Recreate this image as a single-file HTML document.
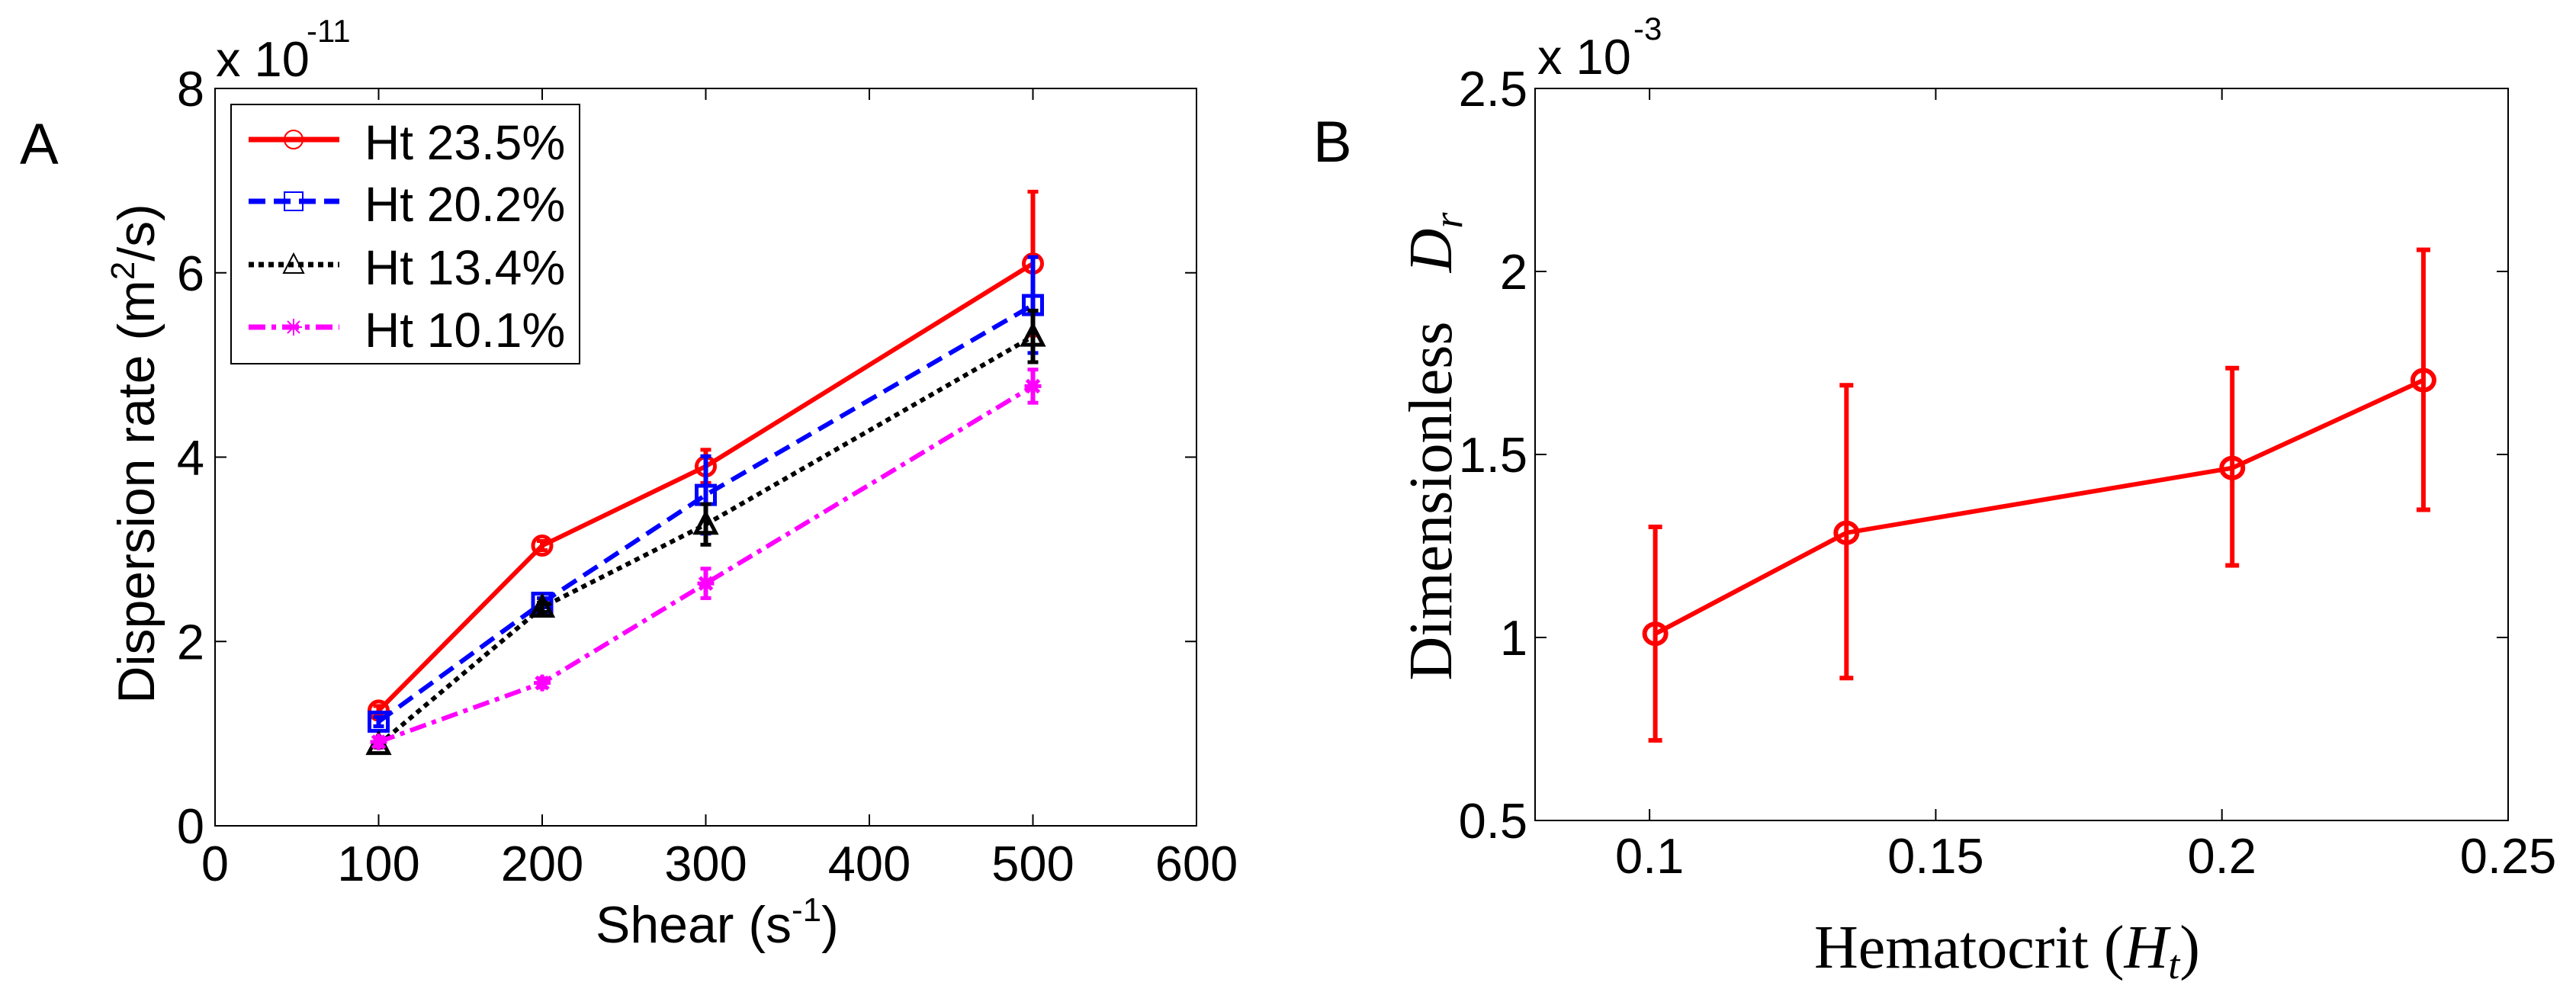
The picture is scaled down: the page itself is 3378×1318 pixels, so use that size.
<!DOCTYPE html>
<html><head><meta charset="utf-8"><style>
html,body{margin:0;padding:0;background:#fff;}
svg{display:block;}
text{font-family:"Liberation Sans",Arial,sans-serif;fill:#000;}
.serif{font-family:"Liberation Serif","Times New Roman",serif;}
</style></head><body>
<svg id="fig" width="3378" height="1318" viewBox="0 0 3378 1318" xmlns="http://www.w3.org/2000/svg">
<g id="pa"></g>
<g id="pb"></g>
</svg>
<script>
// ---- Panel A data ----
const shearValues = [100, 200, 300, 500];
const seriesNames = ["Ht 23.5%", "Ht 20.2%", "Ht 13.4%", "Ht 10.1%"];
const ht235 = [1.25, 3.04, 3.90, 6.10];
const ht235Err = [0.05, 0.05, 0.18, 0.78];
const ht202 = [1.13, 2.42, 3.59, 5.65];
const ht202Err = [0.05, 0.05, 0.42, 0.52];
const ht134 = [0.88, 2.37, 3.27, 5.31];
const ht134Err = [0.03, 0.05, 0.22, 0.28];
const ht101 = [0.91, 1.55, 2.63, 4.77];
const ht101Err = [0.05, 0.05, 0.16, 0.18];
const aXTicks = [0, 100, 200, 300, 400, 500, 600];
const aYTicks = [0, 2, 4, 6, 8];
// ---- Panel B data ----
const hematocrit = [0.101, 0.1344, 0.2018, 0.2352];
const drValues = [1.01, 1.286, 1.463, 1.703];
const drLow = [0.719, 0.889, 1.197, 1.349];
const drHigh = [1.302, 1.689, 1.736, 2.059];
const bXTicks = [0.1, 0.15, 0.2, 0.25];
const bXLabels = ["0.1", "0.15", "0.2", "0.25"];
const bYTicks = [0.5, 1, 1.5, 2, 2.5];
const bYLabels = ["0.5", "1", "1.5", "2", "2.5"];

const NS = "http://www.w3.org/2000/svg";
function mk(parent, tag, attrs, txt){
  const e = document.createElementNS(NS, tag);
  for (const k in attrs) e.setAttribute(k, attrs[k]);
  if (txt !== undefined) e.textContent = txt;
  parent.appendChild(e);
  return e;
}

// ===== Panel A =====
const pa = document.getElementById('pa');
const A = {l:282, r:1569, t:116, b:1083, xmin:0, xmax:600, ymin:0, ymax:8};
const ax = v => A.l + (v - A.xmin) / (A.xmax - A.xmin) * (A.r - A.l);
const ay = v => A.b - (v - A.ymin) / (A.ymax - A.ymin) * (A.b - A.t);

let el = mk(pa, 'rect', {x:A.l, y:A.t, width:A.r-A.l, height:A.b-A.t, fill:'none', stroke:'#000', 'stroke-width':2});



aXTicks.forEach(t => {
  const x = ax(t);
  mk(pa, 'line', {x1:x, x2:x, y1:A.b, y2:A.b-15, stroke:'#000', 'stroke-width':2});
  mk(pa, 'line', {x1:x, x2:x, y1:A.t, y2:A.t+15, stroke:'#000', 'stroke-width':2});
  const tx = mk(pa, 'text', {x:x, y:1155, 'font-size':65, 'text-anchor':'middle'}, String(t));
  
  
});
aYTicks.forEach(t => {
  const y = ay(t);
  mk(pa, 'line', {x1:A.l, x2:A.l+15, y1:y, y2:y, stroke:'#000', 'stroke-width':2});
  mk(pa, 'line', {x1:A.r, x2:A.r-15, y1:y, y2:y, stroke:'#000', 'stroke-width':2});
  const tx = mk(pa, 'text', {x:268, y:y+23, 'font-size':65, 'text-anchor':'end'}, String(t));
  
  
});

el = mk(pa, 'text', {x:283, y:100, 'font-size':65});


el.textContent = 'x 10';
el = mk(pa, 'text', {x:402, y:55, 'font-size':42}, '-11');



el = mk(pa, 'text', {x:26, y:215, 'font-size':76}, 'A');



el = mk(pa, 'text', {x:0, y:0, 'font-size':68, 'text-anchor':'middle', transform:'translate(202,595) rotate(-90)'});


el.innerHTML = 'Dispersion rate (m<tspan dy="-26" font-size="44">2</tspan><tspan dy="26">/s)</tspan>';

el = mk(pa, 'text', {x:781, y:1236, 'font-size':68});


el.innerHTML = 'Shear (s<tspan dy="-28" font-size="44">-1</tspan><tspan dy="28">)</tspan>';

const seriesData = [ht235, ht202, ht134, ht101];
const seriesErr = [ht235Err, ht202Err, ht134Err, ht101Err];
const colors = ['#ff0000', '#0000ff', '#000000', '#ff00ff'];
const dashes = ['', '22 11', '7 6', '22 8 6 8'];
const markers = ['circle', 'square', 'triangle', 'star'];

function marker(parent, type, x, y, color, filledStroke){
  const sw = filledStroke || 4;
  if (type === 'circle') return mk(parent, 'circle', {cx:x, cy:y, r:12, fill:'none', stroke:color, 'stroke-width':sw});
  if (type === 'square') return mk(parent, 'rect', {x:x-12, y:y-12, width:24, height:24, fill:'none', stroke:color, 'stroke-width':sw});
  if (type === 'triangle') return mk(parent, 'polygon', {points:`${x},${y-14} ${x-13},${y+11} ${x+13},${y+11}`, fill:'none', stroke:color, 'stroke-width':sw});
  const g = mk(parent, 'g', {stroke:color, 'stroke-width':sw});
  mk(g, 'line', {x1:x-11, x2:x+11, y1:y, y2:y});
  mk(g, 'line', {x1:x, x2:x, y1:y-11, y2:y+11});
  mk(g, 'line', {x1:x-8, x2:x+8, y1:y-8, y2:y+8});
  mk(g, 'line', {x1:x-8, x2:x+8, y1:y+8, y2:y-8});
  return g;
}

seriesData.forEach((vals, si) => {
  const g = mk(pa, 'g', {});
  
  
  const pts = vals.map((v, i) => ax(shearValues[i]) + ',' + ay(v)).join(' ');
  const attrs = {points:pts, fill:'none', stroke:colors[si], 'stroke-width':6};
  if (dashes[si]) attrs['stroke-dasharray'] = dashes[si];
  mk(g, 'polyline', attrs);
  vals.forEach((v, i) => {
    const x = ax(shearValues[i]);
    const e = seriesErr[si][i];
    const y1 = ay(v - e), y2 = ay(v + e);
    mk(g, 'line', {x1:x, x2:x, y1:y1, y2:y2, stroke:colors[si], 'stroke-width':6});
    mk(g, 'line', {x1:x-7, x2:x+7, y1:y1, y2:y1, stroke:colors[si], 'stroke-width':5});
    mk(g, 'line', {x1:x-7, x2:x+7, y1:y2, y2:y2, stroke:colors[si], 'stroke-width':5});
    const m = marker(g, markers[si], x, ay(v), colors[si], 5);
    
    
  });
});

// Legend
const lg = mk(pa, 'g', {});


mk(lg, 'rect', {x:303, y:137, width:457, height:340, fill:'#fff', stroke:'#000', 'stroke-width':2});
const legendY = [183, 264, 347, 429];
seriesNames.forEach((n, i) => {
  const y = legendY[i];
  const ent = mk(lg, 'g', {});
  
  
  const attrs = {x1:326, x2:445, y1:y, y2:y, stroke:colors[i], 'stroke-width':7};
  if (dashes[i]) attrs['stroke-dasharray'] = dashes[i];
  mk(ent, 'line', attrs);
  marker(ent, markers[i], 385, y, colors[i], 2);
  mk(ent, 'text', {x:478, y:y+26, 'font-size':64}, n);
});

// ===== Panel B =====
const pb = document.getElementById('pb');
const B = {l:2013, r:3289, t:116, b:1076, xmin:0.08, xmax:0.25, ymin:0.5, ymax:2.5};
const bx = v => B.l + (v - B.xmin) / (B.xmax - B.xmin) * (B.r - B.l);
const by = v => B.b - (v - B.ymin) / (B.ymax - B.ymin) * (B.b - B.t);

el = mk(pb, 'rect', {x:B.l, y:B.t, width:B.r-B.l, height:B.b-B.t, fill:'none', stroke:'#000', 'stroke-width':2});



bXTicks.forEach((t, i) => {
  const x = bx(t);
  mk(pb, 'line', {x1:x, x2:x, y1:B.b, y2:B.b-15, stroke:'#000', 'stroke-width':2});
  mk(pb, 'line', {x1:x, x2:x, y1:B.t, y2:B.t+15, stroke:'#000', 'stroke-width':2});
  const tx = mk(pb, 'text', {x:x, y:1145, 'font-size':65, 'text-anchor':'middle'}, bXLabels[i]);
  
  
});
bYTicks.forEach((t, i) => {
  const y = by(t);
  mk(pb, 'line', {x1:B.l, x2:B.l+15, y1:y, y2:y, stroke:'#000', 'stroke-width':2});
  mk(pb, 'line', {x1:B.r, x2:B.r-15, y1:y, y2:y, stroke:'#000', 'stroke-width':2});
  const tx = mk(pb, 'text', {x:2003, y:y+23, 'font-size':65, 'text-anchor':'end'}, bYLabels[i]);
  
  
});

el = mk(pb, 'text', {x:2016, y:97, 'font-size':65}, 'x 10');


el = mk(pb, 'text', {x:2142, y:52, 'font-size':42}, '-3');



el = mk(pb, 'text', {x:1722, y:212, 'font-size':76}, 'B');



el = mk(pb, 'text', {x:0, y:0, 'font-size':80, class:'serif', 'text-anchor':'middle', transform:'translate(1903,657) rotate(-90)'}, 'Dimensionless');


el = mk(pb, 'text', {x:0, y:0, 'font-size':80, class:'serif', 'font-style':'italic', 'text-anchor':'middle', transform:'translate(1903,318) rotate(-90)'});


el.innerHTML = 'D<tspan dy="14" font-size="54">r</tspan>';

el = mk(pb, 'text', {x:2379, y:1269, 'font-size':80, class:'serif'});


el.innerHTML = 'Hematocrit (<tspan font-style="italic">H</tspan><tspan font-style="italic" dy="14" font-size="54">t</tspan><tspan dy="-14">)</tspan>';

const gb = mk(pb, 'g', {});


mk(gb, 'polyline', {points:drValues.map((v, i) => bx(hematocrit[i]) + ',' + by(v)).join(' '), fill:'none', stroke:'#ff0000', 'stroke-width':6});
drValues.forEach((v, i) => {
  const x = bx(hematocrit[i]);
  const y1 = by(drLow[i]), y2 = by(drHigh[i]);
  const eb = mk(gb, 'g', {stroke:'#ff0000', 'stroke-width':6});
  
  
  mk(eb, 'line', {x1:x, x2:x, y1:y1, y2:y2});
  mk(eb, 'line', {x1:x-9, x2:x+9, y1:y1, y2:y1});
  mk(eb, 'line', {x1:x-9, x2:x+9, y1:y2, y2:y2});
  const c = mk(gb, 'ellipse', {cx:x, cy:by(v), rx:14, ry:13, fill:'none', stroke:'#ff0000', 'stroke-width':6});
  
  
});
</script>
</body></html>
